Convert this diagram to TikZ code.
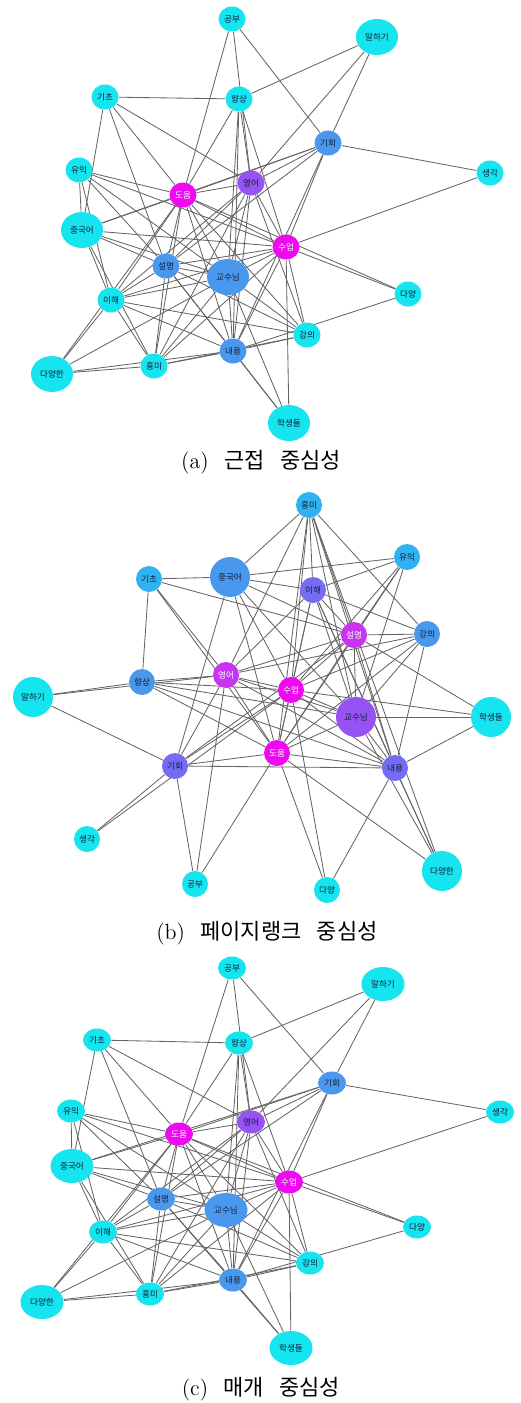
\documentclass[tikz,border=0pt]{standalone}
\usepackage{fontspec}
\newfontfamily\kr{Noto Sans CJK KR}
\usetikzlibrary{shapes.geometric,backgrounds}
\definecolor{ncyan}{RGB}{22,228,238}
\definecolor{nsky}{RGB}{48,178,240}
\definecolor{nblue}{RGB}{74,152,238}
\definecolor{nviolet}{RGB}{118,108,242}
\definecolor{npurple}{RGB}{150,82,242}
\definecolor{norchid}{RGB}{200,52,242}
\definecolor{nmag}{RGB}{238,10,238}
\definecolor{linkgray}{RGB}{100,100,100}
\definecolor{labelink}{RGB}{20,30,60}

\begin{document}
\begin{tikzpicture}[x=0.5pt, y=-0.5pt,
    word/.style={ellipse, inner sep=0pt, text=labelink,
        font=\kr\fontsize{4.3}{4.3}\selectfont},
    cyn/.style={fill=ncyan},
    sky/.style={fill=nsky},
    blu/.style={fill=nblue},
    vio/.style={fill=nviolet},
    pur/.style={fill=npurple},
    orc/.style={fill=norchid, text=white},
    mag/.style={fill=nmag, text=white},
    link/.style={draw=linkgray, line width=0.42pt},
    subcap/.style={font=\fontsize{11}{13}\selectfont}
]
    \useasboundingbox (0,0) rectangle (520,1403);

    % (a) closeness
    \begin{scope}[sm/.style={minimum width=13.5pt, minimum height=12.5pt},
        lg/.style={minimum width=21pt, minimum height=18pt}]
    \node[word,cyn,sm] (a-gb) at (232,19) {공부};
    \node[word,cyn,lg] (a-mh) at (377,37) {말하기};
    \node[word,cyn,sm] (a-gc) at (105,97) {기초};
    \node[word,cyn,sm] (a-hs) at (239,99) {향상};
    \node[word,blu,sm] (a-gh) at (328,143) {기회};
    \node[word,cyn,sm] (a-sg) at (490,173) {생각};
    \node[word,cyn,sm] (a-yi) at (79,170) {유익};
    \node[word,pur,sm] (a-ye) at (251,183) {영어};
    \node[word,mag,sm] (a-dm) at (183,195) {도움};
    \node[word,cyn,lg] (a-jg) at (82,230) {중국어};
    \node[word,mag,sm] (a-su) at (286,247) {수업};
    \node[word,blu,sm] (a-sl) at (166,266) {설명};
    \node[word,blu,lg] (a-gs) at (228,277) {교수님};
    \node[word,cyn,sm] (a-dy) at (408,294) {다양};
    \node[word,cyn,sm] (a-ih) at (111,300) {이해};
    \node[word,cyn,sm] (a-gu) at (307,335) {강의};
    \node[word,blu,sm] (a-ny) at (233,351) {내용};
    \node[word,cyn,sm] (a-hm) at (154,366) {흥미};
    \node[word,cyn,lg] (a-dh) at (52,374) {다양한};
    \node[word,cyn,lg] (a-hk) at (289,423) {학생들};
    \end{scope}
    \node[subcap] (cap-a) at (261,462) {(a)\hspace{0.7em}{\kr 근접}\hspace{0.7em}{\kr 중심성}};

    % (b) pagerank
    \begin{scope}[sm/.style={minimum width=13pt, minimum height=13pt},
        lg/.style={minimum width=20pt, minimum height=20pt}]
    \node[word,sky,sm] (b-hm) at (309,505) {흥미};
    \node[word,sky,sm] (b-yi) at (407,557) {유익};
    \node[word,sky,sm] (b-gc) at (149,579) {기초};
    \node[word,blu,lg] (b-jg) at (230,577) {중국어};
    \node[word,vio,sm] (b-ih) at (313,590) {이해};
    \node[word,orc,sm] (b-sl) at (354,635) {설명};
    \node[word,blu,sm] (b-gu) at (427,634) {강의};
    \node[word,orc,sm] (b-ye) at (226,675) {영어};
    \node[word,blu,sm] (b-hs) at (142,682) {향상};
    \node[word,cyn,lg] (b-mh) at (33,697) {말하기};
    \node[word,mag,sm] (b-su) at (291,690) {수업};
    \node[word,pur,lg] (b-gs) at (356,717) {교수님};
    \node[word,cyn,lg] (b-hk) at (491,717) {학생들};
    \node[word,mag,sm] (b-dm) at (277,753) {도움};
    \node[word,vio,sm] (b-gh) at (175,766) {기회};
    \node[word,vio,sm] (b-ny) at (395,768) {내용};
    \node[word,cyn,sm] (b-sg) at (87,839) {생각};
    \node[word,cyn,sm] (b-gb) at (195,884) {공부};
    \node[word,cyn,sm] (b-dy) at (327,890) {다양};
    \node[word,cyn,lg] (b-dh) at (442,871) {다양한};
    \end{scope}
    \node[subcap] (cap-b) at (267,933) {(b)\hspace{0.7em}{\kr 페이지랭크}\hspace{0.7em}{\kr 중심성}};

    % (c) betweenness
    \begin{scope}[sm/.style={minimum width=14pt, minimum height=11.5pt},
        lg/.style={minimum width=21.5pt, minimum height=17pt}]
    \node[word,cyn,sm] (c-gb) at (232,968) {공부};
    \node[word,cyn,lg] (c-mh) at (383,984) {말하기};
    \node[word,cyn,sm] (c-gc) at (97,1040) {기초};
    \node[word,cyn,sm] (c-hs) at (239,1043) {향상};
    \node[word,blu,sm] (c-gh) at (332,1083) {기회};
    \node[word,cyn,sm] (c-sg) at (500,1112) {생각};
    \node[word,cyn,sm] (c-yi) at (71,1111) {유익};
    \node[word,pur,sm] (c-ye) at (251,1122) {영어};
    \node[word,mag,sm] (c-dm) at (179,1134) {도움};
    \node[word,cyn,lg] (c-jg) at (72,1166) {중국어};
    \node[word,mag,sm] (c-su) at (289,1182) {수업};
    \node[word,blu,sm] (c-sl) at (161,1199) {설명};
    \node[word,blu,lg] (c-gs) at (226,1210) {교수님};
    \node[word,cyn,sm] (c-dy) at (417,1227) {다양};
    \node[word,cyn,sm] (c-ih) at (103,1232) {이해};
    \node[word,cyn,sm] (c-gu) at (310,1263) {강의};
    \node[word,blu,sm] (c-ny) at (233,1280) {내용};
    \node[word,cyn,sm] (c-hm) at (150,1294) {흥미};
    \node[word,cyn,lg] (c-dh) at (42,1302) {다양한};
    \node[word,cyn,lg] (c-hk) at (291,1348) {학생들};
    \end{scope}
    \node[subcap] (cap-c) at (261,1389) {(c)\hspace{0.7em}{\kr 매개}\hspace{0.7em}{\kr 중심성}};

    % same co-occurrence links in all three panels
    \begin{scope}[on background layer]
    \foreach \p in {a,b,c}
      \foreach \u/\v in {gb/ye, gb/dm, gb/gh, mh/hs, mh/gh, mh/ye, sg/gh, sg/su,
          gc/hs, gc/jg, gc/dm, gc/ye, gc/sl, hs/dm, hs/ye, hs/su, hs/gs, hs/ny,
          gh/dm, gh/jg, gh/ye, gh/su, gh/sl, gh/ny, yi/jg, yi/ih, yi/dm, yi/su,
          yi/sl, yi/gs, jg/dm, jg/su, jg/ih, jg/sl, jg/gs, jg/hm, ye/dm, ye/su,
          ye/sl, ye/gs, ye/ih, ye/ny, ye/gu, ye/hm, dm/su, dm/sl, dm/gs, dm/ih,
          dm/ny, dm/gu, dm/hm, dm/dy, dm/dh, su/sl, su/gs, su/ih, su/ny, su/gu,
          su/dy, su/hk, su/hm, sl/gs, sl/ih, sl/ny, sl/hm, sl/gu, sl/hk, gs/ih,
          gs/ny, gs/gu, gs/hm, gs/dh, gs/hk, ih/ny, ih/gu, ih/hm, ih/dh, ny/gu,
          ny/hm, ny/hk, ny/dy, ny/dh, gu/hm, hm/dh}
        \draw[link] (\p-\u) -- (\p-\v);
    \end{scope}
\end{tikzpicture}
\end{document}
